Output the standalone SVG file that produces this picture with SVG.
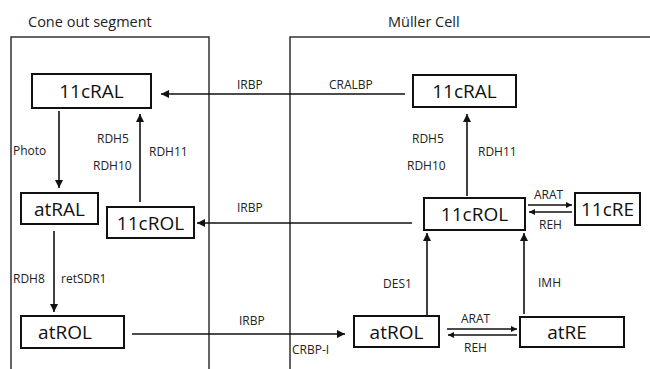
<svg xmlns="http://www.w3.org/2000/svg" width="650" height="369" viewBox="0 0 650 369">
<defs>
<marker id="ah" viewBox="0 0 10 10" refX="10" refY="5" markerWidth="10" markerHeight="8" markerUnits="userSpaceOnUse" orient="auto">
<path d="M0,0 L10,5 L0,10 z" fill="#111"/>
</marker>
<marker id="ahs" viewBox="0 0 10 10" refX="10" refY="5" markerWidth="8" markerHeight="6" markerUnits="userSpaceOnUse" orient="auto">
<path d="M0,0 L10,5 L0,10 z" fill="#111"/>
</marker>
<style>
.cell{fill:none;stroke:#333;stroke-width:1.5}
.box{fill:#fff;stroke:#111;stroke-width:2}
.bt{font-family:"Open Sans","Liberation Sans",sans-serif;font-size:19px;fill:#111;text-anchor:middle;dominant-baseline:central}
.lb{font-family:"Open Sans","Liberation Sans",sans-serif;font-size:12px;fill:#222;dominant-baseline:central}
.tt{font-family:"Open Sans","Liberation Sans",sans-serif;font-size:14.5px;fill:#222;dominant-baseline:central}
.c{fill:none;stroke:#111;stroke-width:1.6}
</style>
</defs>
<rect width="650" height="369" fill="#fff"/>
<g id="cells">
<path class="cell" d="M11,372 V37 H209 V372"/>
<path class="cell" d="M290,372 V37 H652"/>
<text class="tt" x="28" y="21">Cone out segment</text>
<text class="tt" x="388" y="21">Müller Cell</text>
</g>
<g id="connectors">
<line class="c" x1="405" y1="94" x2="161" y2="94" marker-end="url(#ah)"/>
<line class="c" x1="59" y1="111" x2="59" y2="188" marker-end="url(#ah)"/>
<line class="c" x1="140" y1="202" x2="140" y2="114" marker-end="url(#ah)"/>
<line class="c" x1="467" y1="196" x2="467" y2="114" marker-end="url(#ah)"/>
<line class="c" x1="412" y1="223" x2="197" y2="223" marker-end="url(#ah)"/>
<line class="c" x1="528" y1="205" x2="572" y2="205" marker-end="url(#ahs)"/>
<line class="c" x1="572" y1="212" x2="529" y2="212" marker-end="url(#ahs)"/>
<line class="c" x1="54" y1="231" x2="54" y2="312" marker-end="url(#ah)"/>
<line class="c" x1="132" y1="334" x2="345" y2="334" marker-end="url(#ah)"/>
<line class="c" x1="427" y1="315" x2="427" y2="233" marker-end="url(#ah)"/>
<line class="c" x1="524" y1="314" x2="524" y2="233" marker-end="url(#ah)"/>
<line class="c" x1="447" y1="329" x2="517" y2="329" marker-end="url(#ahs)"/>
<line class="c" x1="517" y1="335" x2="448" y2="335" marker-end="url(#ahs)"/>
<text class="lb" x="237" y="84">IRBP</text>
<text class="lb" x="329" y="84">CRALBP</text>
<text class="lb" x="13" y="150">Photo</text>
<text class="lb" x="97" y="138">RDH5</text>
<text class="lb" x="93" y="165">RDH10</text>
<text class="lb" x="149" y="151">RDH11</text>
<text class="lb" x="412" y="138">RDH5</text>
<text class="lb" x="407" y="165">RDH10</text>
<text class="lb" x="478" y="151">RDH11</text>
<text class="lb" x="237" y="207">IRBP</text>
<text class="lb" x="534" y="194">ARAT</text>
<text class="lb" x="539" y="224">REH</text>
<text class="lb" x="13" y="278">RDH8</text>
<text class="lb" x="61" y="278">retSDR1</text>
<text class="lb" x="239" y="320">IRBP</text>
<text class="lb" x="292" y="349">CRBP-I</text>
<text class="lb" x="383" y="283">DES1</text>
<text class="lb" x="538" y="282">IMH</text>
<text class="lb" x="461" y="318">ARAT</text>
<text class="lb" x="464" y="347">REH</text>
</g>
<g id="n-11cRAL-cone"><rect class="box" x="32" y="74" width="119" height="34"/><text class="bt" x="91.5" y="91">11cRAL</text></g>
<g id="n-11cRAL-muller"><rect class="box" x="413" y="75" width="103" height="32"/><text class="bt" x="464.5" y="91">11cRAL</text></g>
<g id="n-atRAL"><rect class="box" x="21" y="193" width="77" height="31"/><text class="bt" x="59.5" y="208.5">atRAL</text></g>
<g id="n-11cROL-cone"><rect class="box" x="107" y="207" width="87" height="31"/><text class="bt" x="150.5" y="222.5">11cROL</text></g>
<g id="n-11cROL-muller"><rect class="box" x="424" y="198" width="101" height="32"/><text class="bt" x="474.5" y="214">11cROL</text></g>
<g id="n-11cRE"><rect class="box" x="575" y="193" width="65" height="32"/><text class="bt" x="607.5" y="209">11cRE</text></g>
<g id="n-atROL-cone"><rect class="box" x="21" y="316" width="103" height="32"/><text class="bt" x="65" y="332">atROL</text></g>
<g id="n-atROL-muller"><rect class="box" x="354" y="316" width="85" height="31"/><text class="bt" x="396.5" y="331.5">atROL</text></g>
<g id="n-atRE"><rect class="box" x="520" y="317" width="104" height="30"/><text class="bt" x="567" y="332">atRE</text></g>
</svg>
